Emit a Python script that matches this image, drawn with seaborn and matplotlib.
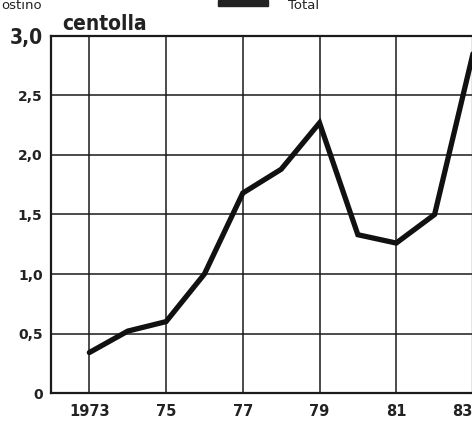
import matplotlib
matplotlib.use("Agg")
import matplotlib.pyplot as plt
import seaborn as sns
import pandas as pd

years = [1973, 1974, 1975, 1976, 1977, 1978, 1979, 1980, 1981, 1982, 1983]
values = [0.34, 0.52, 0.60, 1.00, 1.68, 1.88, 2.27, 1.33, 1.26, 1.50, 2.85]
xtick_pos = [1973, 1975, 1977, 1979, 1981, 1983]
xtick_labels = ["1973", "75", "77", "79", "81", "83"]
ytick_pos = [0, 0.5, 1.0, 1.5, 2.0, 2.5, 3.0]
ytick_labels = ["0", "0,5", "1,0", "1,5", "2,0", "2,5", "3,0"]

sns.set_theme(style="white")
plt.rcParams['font.family'] = ['DejaVu Sans']

W, H = 472, 423
fig = plt.figure(figsize=(W / 100, H / 100), dpi=100)
ax = fig.add_axes([51 / W, 30 / H, (472 - 51) / W + 0.002, (393 - 36) / H])

df = pd.DataFrame({"year": years, "value": values})
sns.lineplot(data=df, x="year", y="value", ax=ax, color="#111111", linewidth=3.8,
             solid_joinstyle="miter", clip_on=True)

ax.set_xlim(1972, 1983)
ax.set_ylim(0, 3.0)
ax.set_xticks(xtick_pos)
ax.set_xticklabels(xtick_labels, fontsize=10.5, fontweight="bold", color="#222222")
xl = ax.get_xticklabels()
xl[-1].set_horizontalalignment("right")
ax.set_yticks(ytick_pos)
ax.set_yticklabels(ytick_labels, fontsize=10, fontweight="bold", color="#222222")
for lbl in ax.get_yticklabels():
    if lbl.get_text() == "3,0":
        lbl.set_fontsize(15)
        lbl.set_fontstretch("condensed")
ax.tick_params(axis="both", length=0, pad=8)
ax.tick_params(axis="y", pad=6)
ax.grid(True, color="#1a1a1a", linewidth=1.1)
for s in ax.spines.values():
    s.set_color("#1a1a1a")
    s.set_linewidth(1.6)
ax.set_xlabel("")
ax.set_ylabel("")

fig.text(62 / W, 1 - 30 / H, "centolla", fontsize=15, fontweight="bold",
         fontstretch="condensed", color="#222222", ha="left", va="baseline")
fig.text(1 / W, 1 - 9 / H, "ostino", fontsize=9.5, color="#222222",
         ha="left", va="baseline")
fig.patches.append(plt.Rectangle((218 / W, 1 - 6 / H), 50 / W, 6 / H,
                                 transform=fig.transFigure, color="#222222"))
fig.text(288 / W, 1 - 9 / H, "Total", fontsize=9.5, color="#222222",
         ha="left", va="baseline")

fig.savefig("out.png", dpi=100)
